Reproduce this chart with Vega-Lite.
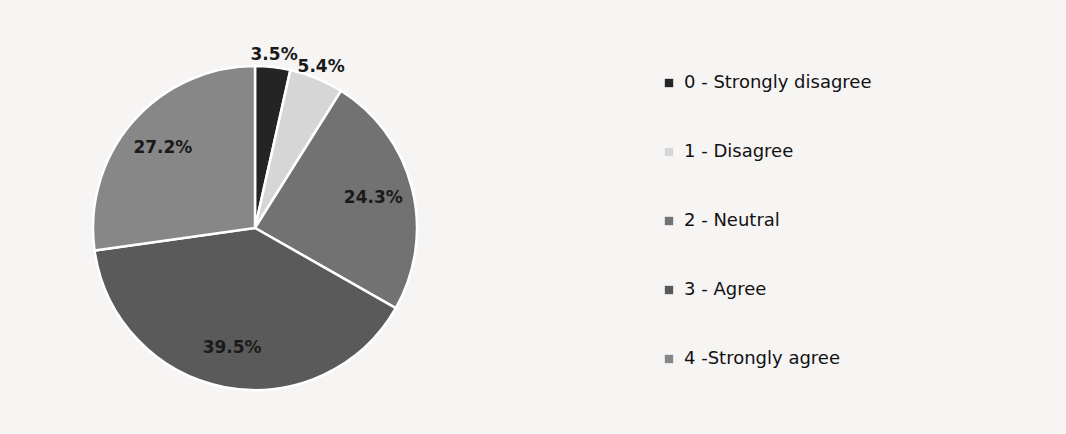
{
  "$schema": "https://vega.github.io/schema/vega-lite/v6.json",
  "background": "#f7f4f4",
  "autosize": "none",
  "width": 510,
  "height": 400,
  "padding": {"left": 0, "top": 28, "right": 556, "bottom": 6},
  "view": {"stroke": null},
  "data": {
    "values": [
      {"code": 0, "response": "0 - Strongly disagree", "share": 0.035},
      {"code": 1, "response": "1 - Disagree", "share": 0.054},
      {"code": 2, "response": "2 - Neutral", "share": 0.243},
      {"code": 3, "response": "3 - Agree", "share": 0.395},
      {"code": 4, "response": "4 -Strongly agree", "share": 0.272}
    ]
  },
  "encoding": {
    "theta": {"field": "share", "type": "quantitative", "stack": true},
    "order": {"field": "code", "type": "ordinal"},
    "color": {
      "field": "response",
      "type": "nominal",
      "sort": ["0 - Strongly disagree", "1 - Disagree", "2 - Neutral", "3 - Agree", "4 -Strongly agree"],
      "scale": {
        "domain": ["0 - Strongly disagree", "1 - Disagree", "2 - Neutral", "3 - Agree", "4 -Strongly agree"],
        "range": ["#242424", "#d6d6d6", "#727272", "#5a5a5a", "#878787"]
      },
      "legend": {
        "title": null,
        "orient": "none",
        "legendX": 660,
        "legendY": 46,
        "symbolType": "square",
        "symbolSize": 70,
        "symbolStrokeWidth": 0,
        "labelFontSize": 18,
        "labelFont": "DejaVu Sans",
        "labelColor": "#111111",
        "labelOffset": 6,
        "rowPadding": 51,
        "labelLimit": 400
      }
    }
  },
  "layer": [
    {
      "mark": {"type": "arc", "outerRadius": 162, "stroke": "#ffffff", "strokeWidth": 2.5}
    },
    {
      "mark": {"type": "text", "font": "DejaVu Sans", "fontWeight": "bold", "fontSize": 17, "radius": {"expr": "datum.share < 0.1 ? 174 : 122"}},
      "encoding": {
        "text": {"field": "share", "type": "quantitative", "format": ".1%"},
        "color": {"value": "#1a1a1a"}
      }
    }
  ]
}
